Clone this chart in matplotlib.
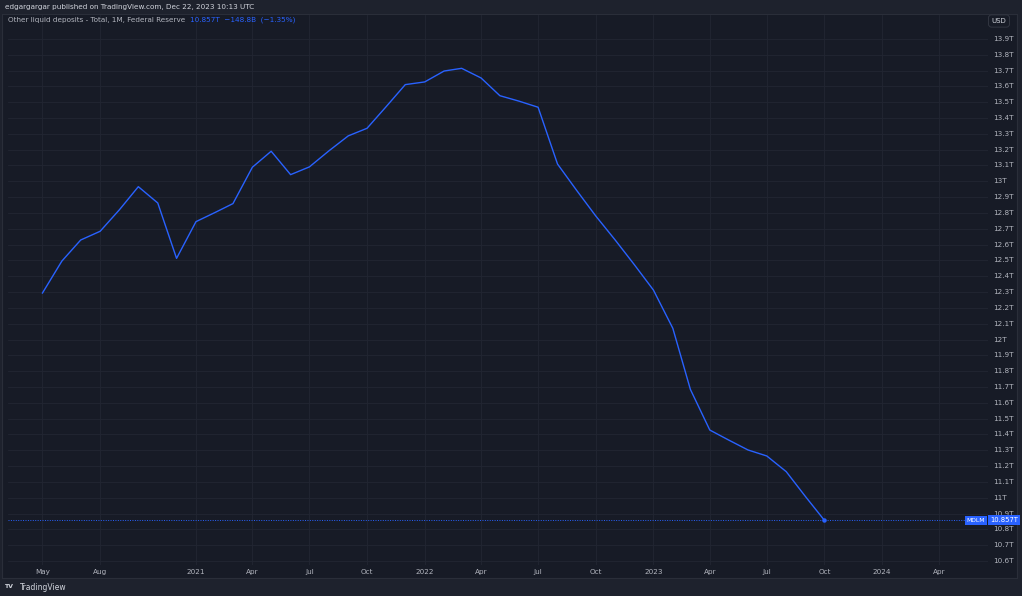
import matplotlib
matplotlib.use('Agg')
import matplotlib.pyplot as plt
import matplotlib.dates as mdates
import pandas as pd

# monthly values, trillions USD (May 2020 .. Oct 2023)
months = pd.date_range('2020-05-01', '2023-10-01', freq='MS')
values = [12.294, 12.496, 12.629, 12.684, 12.821, 12.966, 12.863, 12.513,
          12.745, 12.804, 12.859, 13.089, 13.190, 13.042, 13.091, 13.192,
          13.287, 13.335, 13.474, 13.611, 13.628, 13.697, 13.714, 13.653,
          13.541, 13.506, 13.468, 13.109, 12.940, 12.781, 12.629, 12.476,
          12.313, 12.071, 11.685, 11.428, 11.365, 11.302, 11.264, 11.165,
          11.006, 10.857]
ytick_vals = [round(10.6 + 0.1 * i, 1) for i in range(34)]
xtick_dates = ['2020-05-01', '2020-08-01', '2021-01-01', '2021-04-01', '2021-07-01',
               '2021-10-01', '2022-01-01', '2022-04-01', '2022-07-01', '2022-10-01',
               '2023-01-01', '2023-04-01', '2023-07-01', '2023-10-01', '2024-01-01',
               '2024-04-01']
xtick_labels = ['May', 'Aug', '2021', 'Apr', 'Jul', 'Oct', '2022', 'Apr', 'Jul', 'Oct',
                '2023', 'Apr', 'Jul', 'Oct', '2024', 'Apr']

W, H = 1022, 596
dpi = 100
bg_outer = '#1e222d'
bg_plot = '#171b26'
grid_c = '#222632'
line_c = '#2962ff'
text_c = '#b2b5be'

fig = plt.figure(figsize=(W / dpi, H / dpi), dpi=dpi, facecolor=bg_outer)

# chart panel (plot + price scale + time scale)
panel = fig.add_axes([2 / W, 1 - 578 / H, 1015 / W, 564 / H])
panel.set_facecolor(bg_plot)
panel.set_xticks([])
panel.set_yticks([])
for s in panel.spines.values():
    s.set_color('#2a2e39')
    s.set_linewidth(0.8)

ax = fig.add_axes([8 / W, 1 - 565 / H, 980 / W, 550 / H])
ax.set_facecolor(bg_plot)
for s in ax.spines.values():
    s.set_visible(False)

ax.plot(months, values, color=line_c, lw=1.0, zorder=3)
ax.plot(months[-1], values[-1], 'o', color=line_c, ms=2.2, zorder=4)
ax.axhline(values[-1], xmax=0.98, color=line_c, lw=0.7, ls=(0, (1, 1.5)), zorder=2)

ax.set_ylim(10.575, 14.051)
ax.set_xlim(pd.Timestamp('2020-03-07'), pd.Timestamp('2024-06-18'))
ax.set_yticks(ytick_vals)
ax.set_xticks([pd.Timestamp(d) for d in xtick_dates])
ax.grid(True, color=grid_c, lw=0.6, zorder=0)
ax.tick_params(length=0, labelleft=False, labelbottom=False)

fig.canvas.draw()

# price scale labels
for v in ytick_vals:
    ydisp = ax.transData.transform((mdates.date2num(months[0]), v))[1]
    lab = ('%.1f' % v).rstrip('0').rstrip('.') + 'T'
    fig.text(993 / W, ydisp / H, lab, color=text_c, fontsize=5.2,
             va='center', ha='left')

# last value labels
ylast = ax.transData.transform((mdates.date2num(months[-1]), values[-1]))[1] / H
fig.text(976 / W, ylast, 'MDLM', color='white', fontsize=4.3, ha='center', va='center',
         bbox=dict(boxstyle='square,pad=0.3', fc=line_c, ec='none'))
fig.text(1004 / W, ylast, '10.857T', color='white', fontsize=4.9, ha='center', va='center',
         bbox=dict(boxstyle='square,pad=0.3', fc=line_c, ec='none'))

# time scale labels
for d, lab in zip(xtick_dates, xtick_labels):
    xdisp = ax.transData.transform((mdates.date2num(pd.Timestamp(d)), 0))[0]
    fig.text(xdisp / W, 1 - 572 / H, lab, color=text_c, fontsize=5.2,
             ha='center', va='center')

# USD box
fig.text(999 / W, 1 - 21 / H, 'USD', color='#d1d4dc', fontsize=5, ha='center', va='center',
         bbox=dict(boxstyle='round,pad=0.45', fc=bg_plot, ec='#363a45', lw=0.6))

# header
fig.text(5 / W, 1 - 7 / H, 'edgargargar published on TradingView.com, Dec 22, 2023 10:13 UTC',
         color='#d1d4dc', fontsize=5.2, ha='left', va='center')
t1 = fig.text(8 / W, 1 - 20 / H, 'Other liquid deposits - Total, 1M, Federal Reserve',
              color=text_c, fontsize=5.2, ha='left', va='center')
fig.canvas.draw()
bb = t1.get_window_extent()
fig.text((bb.x1 + 5) / W, 1 - 20 / H, '10.857T  \u2212148.8B  (\u22121.35%)',
         color=line_c, fontsize=5.2, ha='left', va='center')

# footer
fig.text(4 / W, 1 - 587 / H, 'TV', color='#d1d4dc', fontsize=4.5, ha='left',
         va='center', fontweight='bold')
fig.text(20 / W, 1 - 587 / H, 'TradingView', color='#d1d4dc', fontsize=5.5,
         ha='left', va='center')

fig.savefig('out.png', dpi=dpi, facecolor=bg_outer)
